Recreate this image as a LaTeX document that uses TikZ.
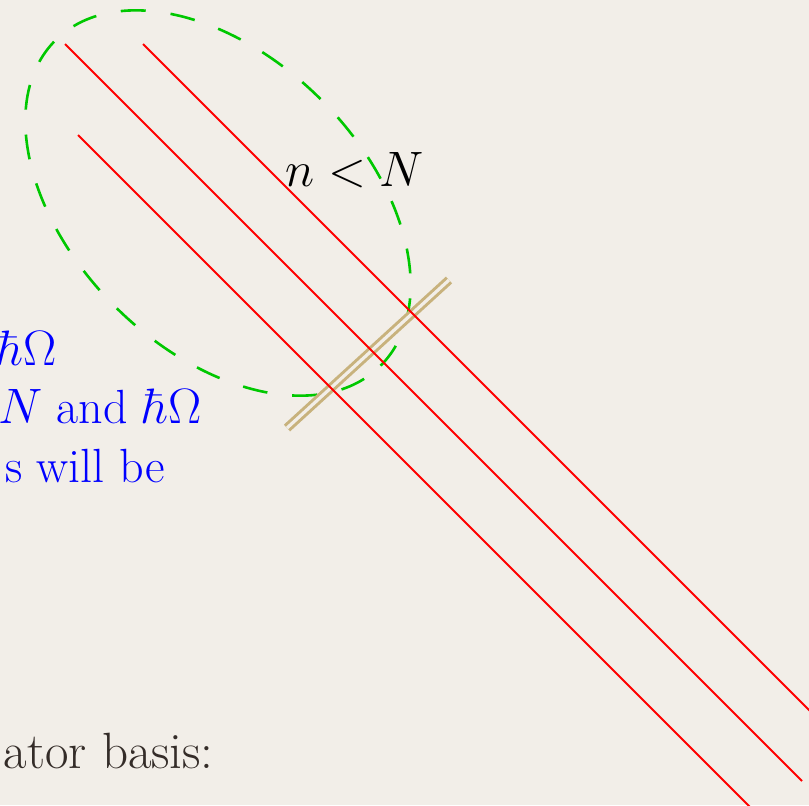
\documentclass[tikz,border=0pt]{standalone}
\usepackage{tikz}
\usetikzlibrary{positioning, calc}

\definecolor{slidebg}{RGB}{242,238,232}
\definecolor{cutred}{RGB}{255,0,0}
\definecolor{regiongreen}{RGB}{0,200,0}
\definecolor{bartan}{RGB}{200,178,125}
\definecolor{textdark}{RGB}{52,44,40}

\begin{document}
\begin{tikzpicture}[
        x=0.5pt, y=-0.5pt,
        font=\fontsize{24}{29}\selectfont,
        redline/.style={cutred, line width=1pt},
        region/.style={regiongreen, line width=1.3pt, dash pattern=on 12.5pt off 12.5pt},
        truncbar/.style={bartan, line width=1.5pt, double=slidebg, double distance=1.6pt},
        bluetext/.style={text=blue, inner sep=0pt, anchor=base east},
        darktext/.style={text=textdark, inner sep=0pt, anchor=base east,
                font=\fontsize{25.5}{30}\selectfont},
    ]

    % --- background -------------------------------------------------
    \fill[slidebg] (0,0) rectangle (809,805);
    \clip (0,0) rectangle (809,805);

    % --- end points of the lines ------------------------------------
    \coordinate (lowA)  at (78,135);
    \coordinate (lowB)  at (760,817);
    \coordinate (midA)  at (65,44);
    \coordinate (midB)  at (802,781);
    \coordinate (topA)  at (143,44);
    \coordinate (topB)  at (830,731);
    \coordinate (barA)  at (287,428);
    \coordinate (barB)  at (449,280);
    \coordinate (centre) at (218,203);

    % --- truncation region --------------------------------------------
    \draw[region, rotate around={-45:(centre)}] (centre) ellipse [x radius=115pt, y radius=73pt];
    \draw[truncbar] (barA) -- (barB);

    % --- red lines -----------------------------------------------------
    \draw[redline] (lowA) -- (lowB);
    \draw[redline] (midA) -- (midB);
    \draw[redline] (topA) -- (topB);

    % --- labels --------------------------------------------------------
    \node[inner sep=0pt, anchor=base west, font=\fontsize{23}{27}\selectfont] (cond) at (285,186) {$n < N$};
    \node[bluetext] (hbar1) at (57,365) {$\hbar\Omega$};
    \node[bluetext] (hbar2) at (202,423) {$N$ and $\hbar\Omega$};
    \node[bluetext] (willbe) at (165,482) {s will be};
    \node[darktext] (basis) at (214,768) {ator basis:};
\end{tikzpicture}
\end{document}
